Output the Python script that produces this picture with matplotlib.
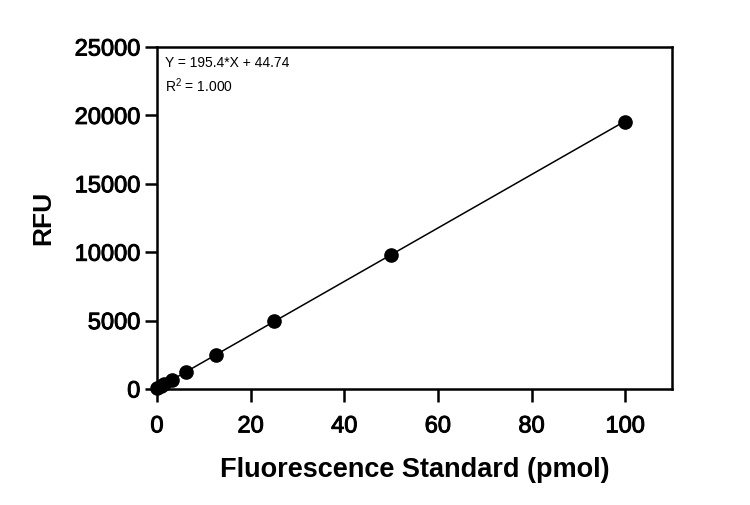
import numpy as np
import matplotlib
matplotlib.use("Agg")
import matplotlib.pyplot as plt
import matplotlib.patheffects as pe

plt.rcParams["font.family"] = ["Liberation Sans", "DejaVu Sans"]

# standard amounts (pmol) and measured RFU
pmol = [0, 0.78125, 1.5625, 3.125, 6.25, 12.5, 25, 50, 100]
rfu = [40, 190, 350, 650, 1260, 2470, 4990, 9800, 19520]

slope = 195.4
intercept = 44.74

fig = plt.figure(figsize=(7.5, 5.05), dpi=100)
ax = fig.add_axes([0.2093, 0.2297, 0.6867, 0.6772])

fit_x = np.array([0, 100])
ax.plot(fit_x, slope * fit_x + intercept, color="black", linewidth=1.1, zorder=2)
ax.plot(pmol, rfu, "o", color="black", markersize=9.5, zorder=3, clip_on=False)

ax.set_xlim(0, 110)
ax.set_ylim(0, 25000)
ax.set_xticks([0, 20, 40, 60, 80, 100])
ax.set_yticks([0, 5000, 10000, 15000, 20000, 25000])

for side in ["left", "bottom", "top", "right"]:
    ax.spines[side].set_linewidth(1.8)
ax.tick_params(direction="out", length=9, width=1.8, labelsize=17)
ax.tick_params(axis="x", pad=10)
ax.tick_params(axis="y", pad=3)
# slightly heavier tick text
for lab in ax.get_xticklabels() + ax.get_yticklabels():
    lab.set_path_effects([pe.withStroke(linewidth=0.7, foreground="black")])

ax.set_xlabel("Fluorescence Standard (pmol)", fontsize=19.5, fontweight="bold", labelpad=14)
ax.set_ylabel("RFU", fontsize=19, fontweight="bold", labelpad=14)

ax.text(0.015, 0.975, "Y = 195.4*X + 44.74\n$\\mathregular{R^2}$ = 1.000", transform=ax.transAxes,
        fontsize=10, va="top", ha="left", linespacing=1.45)

fig.savefig("out.png", dpi=100)
